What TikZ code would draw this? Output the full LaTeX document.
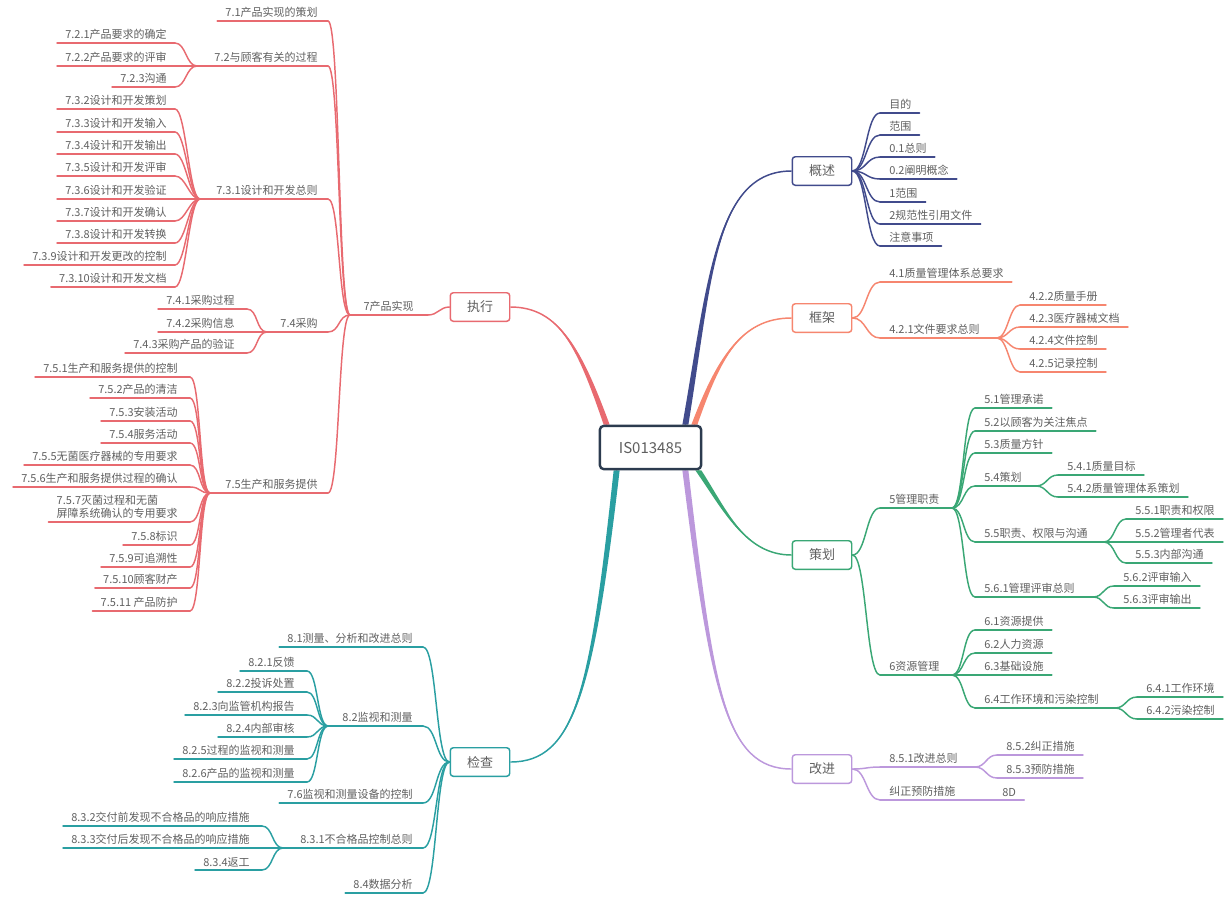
\documentclass[tikz,border=0pt]{standalone}
\usepackage{fontspec}
\setmainfont{Noto Sans CJK SC}
\usetikzlibrary{calc}
\pgfdeclarelayer{bg}
\pgfsetlayers{bg,main}
\definecolor{cRed}{HTML}{E86A70}
\definecolor{cNavy}{HTML}{414B8C}
\definecolor{cSalmon}{HTML}{F6866F}
\definecolor{cGreen}{HTML}{3AA775}
\definecolor{cLav}{HTML}{BC98DC}
\definecolor{cTeal}{HTML}{2A9FA2}
\definecolor{cRoot}{HTML}{2C3B4F}
\definecolor{txt}{HTML}{5F5F5F}
\def\gapT{9}
\def\ctl{12}
% right-side leaf: name, parent, join x, y, text
\newcommand\leafR[5]{%
  \coordinate (#1-j) at (#3,#4);
  \node[leaf,anchor=south west] (#1) at (#3+\gapT,#4-3) {#5};
  \draw[conn] (#2) .. controls +(\ctl,0) and +(-\ctl,0) .. (#1-j);
  \draw[conn] (#1-j) -- ($(#1.east|-#1-j)+(8,0)$);
}
% right-side inner node: name, parent, join x, y, branch x, text
\newcommand\midR[6]{%
  \coordinate (#1-j) at (#3,#4);
  \coordinate (#1-b) at (#5,#4);
  \node[leaf,anchor=south west] (#1) at (#3+\gapT,#4-3) {#6};
  \draw[conn] (#2) .. controls +(\ctl,0) and +(-\ctl,0) .. (#1-j);
  \draw[conn] (#1-j) -- (#1-b);
}
\newcommand\leafL[5]{%
  \coordinate (#1-j) at (#3,#4);
  \node[leaf,anchor=south east] (#1) at (#3-\gapT,#4-3) {#5};
  \draw[conn] (#2) .. controls +(-\ctl,0) and +(\ctl,0) .. (#1-j);
  \draw[conn] (#1-j) -- ($(#1.west|-#1-j)+(-8,0)$);
}
\newcommand\midL[6]{%
  \coordinate (#1-j) at (#3,#4);
  \coordinate (#1-b) at (#5,#4);
  \node[leaf,anchor=south east] (#1) at (#3-\gapT,#4-3) {#6};
  \draw[conn] (#2) .. controls +(-\ctl,0) and +(\ctl,0) .. (#1-j);
  \draw[conn] (#1-j) -- (#1-b);
}
% tapered trunk: colour, start, control1, control2, end
\newcommand\trunk[5]{%
  \fill[#1] ($(#2)+(-3,0)$) .. controls ($(#3)+(-2,0)$) and (#4) .. (#5)
     .. controls (#4) and ($(#3)+(2,0)$) .. ($(#2)+(3,0)$) -- cycle;
  \draw[#1,line width=1.1pt] (#2) .. controls (#3) and (#4) .. (#5);
}
\begin{document}
\begin{tikzpicture}[x=0.75pt,y=-0.75pt,
  leaf/.style={inner sep=0pt,text=txt,align=left,font=\fontsize{8.25}{10.1}\selectfont},
  conn/.style={line width=1.1pt,line cap=round},
  box/.style={draw,line width=1.1pt,rounded corners=2.25pt,fill=white,
    minimum width=44.6pt,minimum height=21.4pt,inner sep=0pt,text=txt,
    font=\fontsize{9.75}{11}\selectfont},
  rootbox/.style={draw=cRoot,line width=1.8pt,rounded corners=3pt,fill=white,
    minimum width=76pt,minimum height=32.5pt,inner sep=0pt,text=txt,
    font=\fontsize{11.25}{13}\selectfont}]
\useasboundingbox (0,0) rectangle (1230,896);

\node[rootbox] (root) at (650.5,447.5) {IS013485};
\coordinate (t-zx) at ($(root.north west)+(8,0)$);
\coordinate (t-gs) at ($(root.north east)+(-17,0)$);
\coordinate (t-kj) at ($(root.north east)+(-8,0)$);
\coordinate (t-ch) at ($(root.south east)+(-4,0)$);
\coordinate (t-gj) at ($(root.south east)+(-17,0)$);
\coordinate (t-jc) at ($(root.south west)+(18,0)$);

% ================= 概述 =================
\begin{scope}[color=cNavy]
\node[box] (gs) at (822,171) {概述};
\def\gapT{9}\def\ctl{14}
\leafR{g1}{gs.east}{880}{113}{目的}
\leafR{g2}{gs.east}{880}{135}{范围}
\leafR{g3}{gs.east}{880}{157}{0.1总则}
\leafR{g4}{gs.east}{880}{179}{0.2阐明概念}
\leafR{g5}{gs.east}{880}{202}{1范围}
\leafR{g6}{gs.east}{880}{224}{2规范性引用文件}
\leafR{g7}{gs.east}{880}{246}{注意事项}
\end{scope}

% ================= 框架 =================
\begin{scope}[color=cSalmon]
\node[box] (kj) at (822,318) {框架};
\def\gapT{9}\def\ctl{14}
\leafR{k1}{kj.east}{880}{282}{4.1质量管理体系总要求}
\midR{k2}{kj.east}{880}{338}{997}{4.2.1文件要求总则}
\def\ctl{11}
\leafR{k21}{k2-b}{1020}{305}{4.2.2质量手册}
\leafR{k22}{k2-b}{1020}{327}{4.2.3医疗器械文档}
\leafR{k23}{k2-b}{1020}{349}{4.2.4文件控制}
\leafR{k24}{k2-b}{1020}{372}{4.2.5记录控制}
\end{scope}

% ================= 策划 =================
\begin{scope}[color=cGreen]
\node[box] (ch) at (822,555) {策划};
\def\gapT{9}\def\ctl{14}
\midR{c5}{ch.east}{880}{508}{952}{5管理职责}
\midR{c6}{ch.east}{880}{675}{952}{6资源管理}
\def\ctl{12}
\leafR{c51}{c5-b}{975}{408}{5.1管理承诺}
\leafR{c52}{c5-b}{975}{431}{5.2以顾客为关注焦点}
\leafR{c53}{c5-b}{975}{453}{5.3质量方针}
\midR{c54}{c5-b}{975}{486}{1036}{5.4策划}
\midR{c55}{c5-b}{975}{542}{1104}{5.5职责、权限与沟通}
\midR{c56}{c5-b}{975}{597}{1093}{5.6.1管理评审总则}
\leafR{c61}{c6-b}{975}{630}{6.1资源提供}
\leafR{c62}{c6-b}{975}{653}{6.2人力资源}
\leafR{c63}{c6-b}{975}{675}{6.3基础设施}
\midR{c64}{c6-b}{975}{708}{1115}{6.4工作环境和污染控制}
\def\ctl{11}
\leafR{c541}{c54-b}{1058}{475}{5.4.1质量目标}
\leafR{c542}{c54-b}{1058}{497}{5.4.2质量管理体系策划}
\leafR{c551}{c55-b}{1126}{519}{5.5.1职责和权限}
\leafR{c552}{c55-b}{1126}{542}{5.5.2管理者代表}
\leafR{c553}{c55-b}{1126}{563}{5.5.3内部沟通}
\leafR{c561}{c56-b}{1114}{586}{5.6.2评审输入}
\leafR{c562}{c56-b}{1114}{608}{5.6.3评审输出}
\leafR{c641}{c64-b}{1137}{697}{6.4.1工作环境}
\leafR{c642}{c64-b}{1137}{719}{6.4.2污染控制}
\end{scope}

% ================= 改进 =================
\begin{scope}[color=cLav]
\node[box] (gj) at (822,769) {改进};
\def\gapT{9}\def\ctl{14}
\midR{j1}{gj.east}{880}{767}{975}{8.5.1改进总则}
\midR{j2}{gj.east}{880}{800}{986}{纠正预防措施}
\def\ctl{11}
\leafR{j11}{j1-b}{997}{755}{8.5.2纠正措施}
\leafR{j12}{j1-b}{997}{778}{8.5.3预防措施}
\def\ctl{3}\def\gapT{7}
\leafR{j21}{j2-b}{995}{800}{8D}
\end{scope}

% ================= 执行 =================
\begin{scope}[color=cRed]
\node[box] (zx) at (480,307) {执行};
\def\gapT{14}\def\ctl{10}
\midL{z7}{zx.west}{428}{315}{350}{7产品实现}
\def\gapT{10}\def\ctl{12}
\leafL{z71}{z7-b}{328}{21}{7.1产品实现的策划}
\midL{z72}{z7-b}{328}{66}{197}{7.2与顾客有关的过程}
\midL{z73}{z7-b}{328}{199}{200}{7.3.1设计和开发总则}
\midL{z74}{z7-b}{328}{332}{267}{7.4采购}
\midL{z75}{z7-b}{328}{493}{210}{7.5生产和服务提供}
\def\gapT{8}\def\ctl{11}
\leafL{z721}{z72-b}{175}{43}{7.2.1产品要求的确定}
\leafL{z722}{z72-b}{175}{66}{7.2.2产品要求的评审}
\leafL{z723}{z72-b}{175}{87}{7.2.3沟通}
\leafL{z732}{z73-b}{175}{109}{7.3.2设计和开发策划}
\leafL{z733}{z73-b}{175}{132}{7.3.3设计和开发输入}
\leafL{z734}{z73-b}{175}{154}{7.3.4设计和开发输出}
\leafL{z735}{z73-b}{175}{176}{7.3.5设计和开发评审}
\leafL{z736}{z73-b}{175}{199}{7.3.6设计和开发验证}
\leafL{z737}{z73-b}{175}{221}{7.3.7设计和开发确认}
\leafL{z738}{z73-b}{175}{243}{7.3.8设计和开发转换}
\leafL{z739}{z73-b}{175}{265}{7.3.9设计和开发更改的控制}
\leafL{z7310}{z73-b}{175}{287}{7.3.10设计和开发文档}
\def\gapT{12}
\leafL{z741}{z74-b}{247}{309}{7.4.1采购过程}
\leafL{z742}{z74-b}{247}{332}{7.4.2采购信息}
\leafL{z743}{z74-b}{247}{353}{7.4.3采购产品的验证}
\leafL{z751}{z75-b}{190}{377}{7.5.1生产和服务提供的控制}
\leafL{z752}{z75-b}{190}{398}{7.5.2产品的清洁}
\leafL{z753}{z75-b}{190}{421}{7.5.3安装活动}
\leafL{z754}{z75-b}{190}{443}{7.5.4服务活动}
\leafL{z755}{z75-b}{190}{465}{7.5.5无菌医疗器械的专用要求}
\leafL{z756}{z75-b}{190}{487}{7.5.6生产和服务提供过程的确认}
\leafL{z757}{z75-b}{190}{522}{7.5.7灭菌过程和无菌\\屏障系统确认的专用要求}
\leafL{z758}{z75-b}{190}{545}{7.5.8标识}
\leafL{z759}{z75-b}{190}{567}{7.5.9可追溯性}
\leafL{z7510}{z75-b}{190}{588}{7.5.10顾客财产}
\leafL{z7511}{z75-b}{190}{611}{7.5.11 产品防护}
\end{scope}

% ================= 检查 =================
\begin{scope}[color=cTeal]
\node[box] (jc) at (480,762) {检查};
\def\gapT{10}\def\ctl{14}
\leafL{x81}{jc.west}{423}{647}{8.1测量、分析和改进总则}
\midL{x82}{jc.west}{423}{726}{328}{8.2监视和测量}
\leafL{x76}{jc.west}{423}{803}{7.6监视和测量设备的控制}
\midL{x83}{jc.west}{423}{848}{283}{8.3.1不合格品控制总则}
\leafL{x84}{jc.west}{423}{893}{8.4数据分析}
\def\gapT{12}\def\ctl{11}
\leafL{x821}{x82-b}{307}{671}{8.2.1反馈}
\leafL{x822}{x82-b}{307}{692}{8.2.2投诉处置}
\leafL{x823}{x82-b}{307}{715}{8.2.3向监管机构报告}
\leafL{x824}{x82-b}{307}{737}{8.2.4内部审核}
\leafL{x825}{x82-b}{307}{759}{8.2.5过程的监视和测量}
\leafL{x826}{x82-b}{307}{782}{8.2.6产品的监视和测量}
\leafL{x831}{x83-b}{262}{826}{8.3.2交付前发现不合格品的响应措施}
\leafL{x832}{x83-b}{262}{848}{8.3.3交付后发现不合格品的响应措施}
\leafL{x833}{x83-b}{262}{870}{8.3.4返工}
\end{scope}

% ================= trunks =================
\begin{pgfonlayer}{bg}
\trunk{cRed}{t-zx}{580,350}{560,307}{zx.east}
\trunk{cNavy}{t-gs}{710,280}{715,171}{gs.west}
\trunk{cSalmon}{t-kj}{718,360}{740,318}{kj.west}
\trunk{cGreen}{t-ch}{725,510}{745,555}{ch.west}
\trunk{cLav}{t-gj}{712,690}{725,769}{gj.west}
\trunk{cTeal}{t-jc}{592,690}{575,762}{jc.east}
\end{pgfonlayer}
\end{tikzpicture}
\end{document}
